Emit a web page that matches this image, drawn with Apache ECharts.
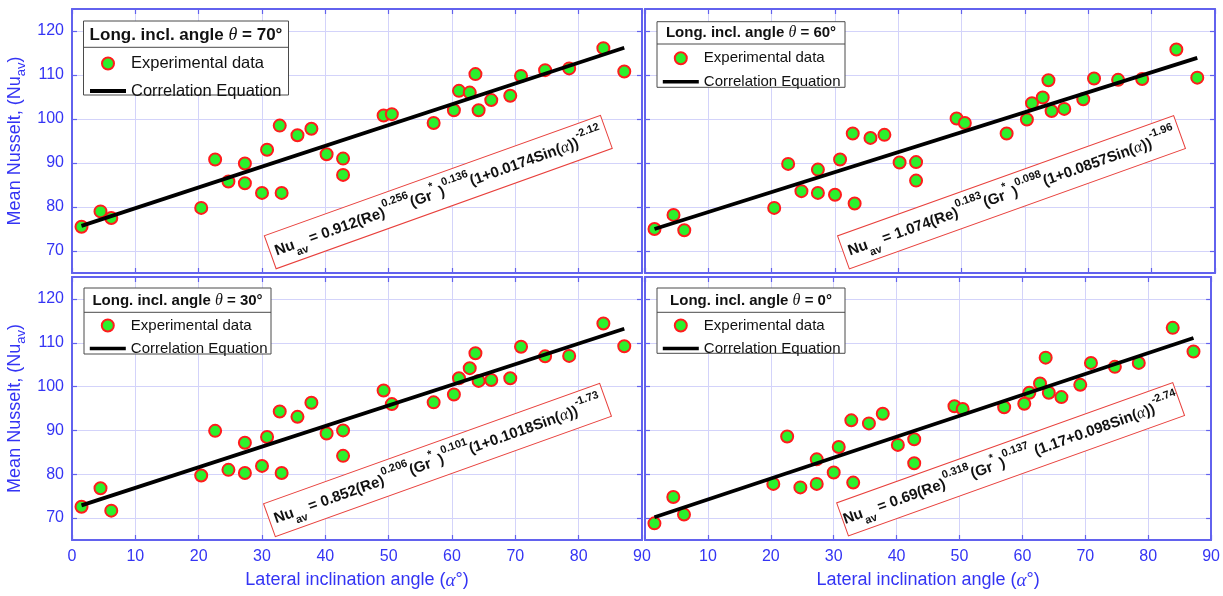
<!DOCTYPE html>
<html><head><meta charset="utf-8">
<script src="https://cdn.jsdelivr.net/npm/echarts@6/dist/echarts.min.js"></script>
<style>html,body{margin:0;padding:0;background:#fff}#c{width:1223px;height:596px}</style>
</head><body><div id="c"></div>
<script>
// ---------- data ----------
const alpha = [1.5, 4.5, 6.2, 20.4, 22.6, 24.7, 27.3, 27.3, 30.0, 30.8, 32.8, 33.1, 35.6, 37.8, 40.2, 42.8, 42.8, 49.2, 50.5, 57.1, 60.3, 61.1, 62.8, 63.7, 64.2, 66.2, 69.2, 70.9, 74.7, 78.5, 83.9, 87.2];
const nu70 = [75.5, 79.0, 77.5, 79.8, 90.8, 85.8, 89.9, 85.4, 83.2, 93.0, 98.5, 83.2, 96.3, 97.8, 92.0, 91.0, 87.3, 100.8, 101.1, 99.1, 102.0, 106.4, 106.0, 110.2, 102.0, 104.3, 105.3, 109.8, 111.1, 111.5, 116.1, 110.8];
const nu60 = [75.0, 78.2, 74.7, 79.8, 89.8, 83.6, 88.5, 83.2, 82.8, 90.8, 96.7, 80.8, 95.7, 96.4, 90.1, 90.2, 86.0, 100.1, 99.1, 96.7, 99.9, 103.6, 104.9, 108.8, 101.8, 102.3, 104.5, 109.2, 108.9, 109.1, 115.8, 109.4];
const nu30 = [72.6, 76.8, 71.7, 79.7, 89.9, 81.0, 87.2, 80.3, 81.9, 88.5, 94.3, 80.3, 93.1, 96.3, 89.3, 90.0, 84.2, 99.1, 96.0, 96.4, 98.2, 101.9, 104.2, 107.6, 101.3, 101.5, 101.9, 109.1, 106.9, 107.0, 114.4, 109.2];
const nu0  = [68.8, 74.8, 70.8, 77.8, 88.6, 77.0, 83.4, 77.8, 80.4, 86.2, 92.3, 78.1, 91.6, 93.8, 86.7, 88.0, 82.5, 95.5, 94.9, 95.3, 96.1, 98.6, 100.7, 106.6, 98.6, 97.6, 100.4, 105.4, 104.5, 105.4, 113.4, 108.0];
const fitAlpha = [1.5, 87.2];
const fit70 = [75.7, 116.2];
const fit60 = [75.0, 113.9];
const fit30 = [72.9, 113.2];
const fit0  = [70.2, 111.1];
const thetaLabels = ['70', '60', '30', '0'];
const eqCoef = ['0.912', '1.074', '0.852', '0.69'];
const eqReExp = ['0.256', '0.183', '0.206', '0.318'];
const eqGrExp = ['0.136', '0.098', '0.101', '0.137'];
const eqSinPart = ['(1+0.0174', '(1+0.0857', '(1+0.1018', ' (1.17+0.098'];
const eqOuterExp = ['-2.12', '-1.96', '-1.73', '-2.74'];
const xMin = 0, xMax = 90, xStep = 10;
const yMin = 65, yMax = 125;
const yTicks = [70, 80, 90, 100, 110, 120];
const seriesNu = [nu70, nu60, nu30, nu0];
const seriesFit = [fit70, fit60, fit30, fit0];
const legendNames = ['Experimental data', 'Correlation Equation'];
const xTitle = 'Lateral inclination angle (';
const yTitle = 'Mean Nusselt, (Nu';

// ---------- styling / layout ----------
const FONT = "'Liberation Sans', Arial, Helvetica, sans-serif";
const SERIF = "'Liberation Serif', 'DejaVu Serif', serif";
const AXIS = '#6262ee';
const LBL = '#3434f4';
const GRIDC = '#d3d3fa';
const grids = [
  {left: 72, top: 9, width: 570, height: 264},
  {left: 645, top: 9, width: 570, height: 264},
  {left: 72, top: 277, width: 570, height: 263},
  {left: 645, top: 277, width: 570, height: 263}
];
const legLayout = [
  {x: 83.5, y: 21, w: 205, h: 74, div: 47.3, ty: 35, font: 16.5, tfont: 17, left: 88, top: 55, gap: 10.5, lw: 4},
  {x: 657, y: 21.7, w: 188, h: 65.6, div: 44, ty: 33, font: 15, tfont: 15, left: 661, top: 50.7, gap: 8.6, lw: 3.6},
  {x: 84, y: 288, w: 187, h: 66, div: 312.3, ty: 300.5, font: 15, tfont: 15, left: 88, top: 318, gap: 8, lw: 3.6},
  {x: 657, y: 288, w: 188, h: 65.3, div: 312.3, ty: 300.5, font: 15, tfont: 15, left: 661, top: 318, gap: 8, lw: 3.6}
];
const eqLayout = [
  {cx: 438.3, cy: 192.1}, {cx: 1011.5, cy: 192.2}, {cx: 437.5, cy: 460}, {cx: 1010.6, cy: 459.2}
];
const EQ_W = 357, EQ_H = 35, EQ_ROT = 19.7 * Math.PI / 180;

const xAxes = [], yAxes = [], series = [], legends = [], graphics = [];
for (let i = 0; i < 4; i++) {
  const bottomRow = i >= 2, leftCol = i % 2 === 0;
  xAxes.push({
    type: 'value', gridIndex: i, position: 'bottom', min: xMin, max: xMax, interval: xStep,
    axisLine: {show: true, onZero: false, lineStyle: {color: AXIS, width: 2}},
    axisTick: {show: true, inside: true, length: 5, lineStyle: {color: AXIS, width: 1.2}},
    axisLabel: {show: bottomRow, color: LBL, fontSize: 16, fontFamily: FONT, margin: 9, showMinLabel: leftCol},
    splitLine: {show: true, lineStyle: {color: GRIDC, width: 1}},
    name: bottomRow ? '{n|' + xTitle + '}{a|α}{n|°)}' : '',
    nameLocation: 'middle', nameGap: 31,
    nameTextStyle: {color: LBL, fontSize: 18, fontFamily: FONT,
      rich: {n: {color: LBL, fontSize: 18, fontFamily: FONT}, a: {color: LBL, fontSize: 19, fontFamily: SERIF, fontStyle: 'italic'}}}
  });
  xAxes.push({
    type: 'value', gridIndex: i, position: 'top', min: xMin, max: xMax, interval: xStep,
    axisLine: {show: true, onZero: false, lineStyle: {color: AXIS, width: 2}},
    axisTick: {show: true, inside: true, length: 5, lineStyle: {color: AXIS, width: 1.2}},
    axisLabel: {show: false}, splitLine: {show: false}
  });
  yAxes.push({
    type: 'value', gridIndex: i, position: 'left', min: yMin, max: yMax,
    axisLine: {show: true, onZero: false, lineStyle: {color: AXIS, width: 2}},
    axisTick: {show: true, inside: true, length: 5, customValues: yTicks, lineStyle: {color: AXIS, width: 1.2}},
    axisLabel: {show: leftCol, customValues: yTicks, color: LBL, fontSize: 16, fontFamily: FONT, margin: 8},
    splitLine: {show: true, lineStyle: {color: GRIDC, width: 1}},
    name: leftCol ? '{n|' + yTitle + '}{s|av}{n|)}' : '',
    nameLocation: 'middle', nameGap: 44, nameRotate: 90,
    nameTextStyle: {color: LBL, fontSize: 18, fontFamily: FONT,
      rich: {n: {color: LBL, fontSize: 18, fontFamily: FONT, lineHeight: 26}, s: {color: LBL, fontSize: 13, fontFamily: FONT, verticalAlign: 'bottom', lineHeight: 12}}}
  });
  yAxes.push({
    type: 'value', gridIndex: i, position: 'right', min: yMin, max: yMax,
    axisLine: {show: true, onZero: false, lineStyle: {color: AXIS, width: 2}},
    axisTick: {show: true, inside: true, length: 5, customValues: yTicks, lineStyle: {color: AXIS, width: 1.2}},
    axisLabel: {show: false}, splitLine: {show: false}
  });

  series.push({
    name: legendNames[1], type: 'line', xAxisIndex: 2 * i, yAxisIndex: 2 * i,
    data: fitAlpha.map((a, k) => [a, seriesFit[i][k]]),
    symbol: 'none', lineStyle: {color: '#000', width: 3.8}, itemStyle: {color: '#000'}, silent: true
  });
  series.push({
    name: legendNames[0], type: 'scatter', xAxisIndex: 2 * i, yAxisIndex: 2 * i,
    data: alpha.map((a, k) => [a, seriesNu[i][k]]),
    symbol: 'circle', symbolSize: 12,
    itemStyle: {color: '#2cf02c', borderColor: '#ff1c1c', borderWidth: 2, opacity: 1}
  });

  const L = legLayout[i];
  legends.push({
    data: [
      {name: legendNames[0]},
      {name: legendNames[1], itemStyle: {color: 'rgba(0,0,0,0)', borderColor: 'rgba(0,0,0,0)', borderWidth: 0, opacity: 0}, lineStyle: {width: L.lw, color: '#000', opacity: 1}}
    ],
    orient: 'vertical', left: L.left, top: L.top, padding: 0,
    itemWidth: 36, itemHeight: 12, itemGap: L.gap, selectedMode: false, z: 8,
    textStyle: {fontSize: L.font, fontFamily: FONT, color: '#111'}
  });

  graphics.push({
    type: 'rect', z: 6, shape: {x: L.x, y: L.y, width: L.w, height: L.h},
    style: {fill: '#fff', stroke: '#4a4a4a', lineWidth: 1}
  });
  graphics.push({
    type: 'line', z: 7, shape: {x1: L.x, y1: L.div, x2: L.x + L.w, y2: L.div},
    style: {stroke: '#4a4a4a', lineWidth: 1}
  });
  graphics.push({
    type: 'text', z: 7, x: L.x + L.w / 2, y: L.ty,
    style: {
      text: '{b|Long. incl. angle }{t|θ}{b| = ' + thetaLabels[i] + '°}',
      align: 'center', verticalAlign: 'middle',
      rich: {
        b: {fontSize: L.tfont, fontWeight: 'bold', fontFamily: FONT, fill: '#111'},
        t: {fontSize: L.tfont + 1, fontStyle: 'italic', fontFamily: SERIF, fill: '#111'}
      }
    }
  });

  const E = eqLayout[i];
  graphics.push({
    type: 'group', x: E.cx, y: E.cy, rotation: EQ_ROT,
    children: [
      {type: 'rect', z: 6, shape: {x: -EQ_W / 2, y: -EQ_H / 2, width: EQ_W, height: EQ_H},
        style: {fill: '#fff', stroke: '#e8403c', lineWidth: 1}},
      {type: 'text', z: 7, x: 0, y: 1,
        style: {
          text: '{m|Nu}{sb|av}{m| = ' + eqCoef[i] + '(Re)}{sp|' + eqReExp[i] + '}{m|(Gr}{sp|*}{m| )}{sp|' + eqGrExp[i] + '}{m|' + eqSinPart[i] + 'Sin(}{a|α}{m|))}{sp|' + eqOuterExp[i] + '}',
          align: 'center', verticalAlign: 'middle',
          rich: {
            m: {fontSize: 15, fontWeight: 'bold', fontFamily: FONT, fill: '#111', lineHeight: 28},
            sp: {fontSize: 11, fontWeight: 'bold', fontFamily: FONT, fill: '#111', lineHeight: 12, verticalAlign: 'top'},
            sb: {fontSize: 11, fontWeight: 'bold', fontFamily: FONT, fill: '#111', lineHeight: 12, verticalAlign: 'bottom'},
            a: {fontSize: 16, fontStyle: 'italic', fontFamily: SERIF, fill: '#111', lineHeight: 28}
          }
        }}
    ]
  });
}

const chart = echarts.init(document.getElementById('c'), null, {renderer: 'canvas'});
chart.setOption({
  animation: false,
  backgroundColor: '#fff',
  grid: grids,
  xAxis: xAxes,
  yAxis: yAxes,
  legend: legends,
  series: series,
  graphic: {elements: graphics}
});
</script></body></html>
